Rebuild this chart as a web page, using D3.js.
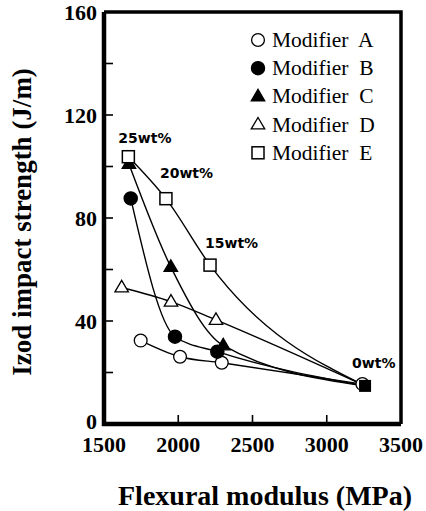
<!DOCTYPE html>
<html>
<head>
<meta charset="utf-8">
<script src="https://cdn.jsdelivr.net/npm/d3@7"></script>
<style>
  html, body { margin: 0; padding: 0; background: #fff; }
  svg { display: block; }
</style>
</head>
<body>
<svg id="chart" width="426" height="511"></svg>
<script>
// Izod impact strength vs flexural modulus for five impact modifiers
// (points at 25, 20, 15 and 0 wt% loading)
const modifiers = ["A", "B", "C", "D", "E"];
const symbols = ["openCircle", "filledCircle", "filledTriangle", "openTriangle", "openSquare"];

const modulusA = [1747, 2012, 2293, 3240];
const impactA  = [32.4, 26.1, 23.8, 15.5];
const modulusB = [1680, 1978, 2263, 3258];
const impactB  = [87.6, 33.9, 28.1, 14.8];
const modulusC = [1668, 1950, 2303, 3258];
const impactC  = [101.0, 61.0, 30.5, 14.8];
const modulusD = [1619, 1951, 2254, 3258];
const impactD  = [53.0, 47.5, 40.4, 14.8];
const modulusE = [1664, 1917, 2214, 3258];
const impactE  = [103.8, 87.5, 61.7, 14.8];

const loadingLabels = ["25wt%", "20wt%", "15wt%", "0wt%"];
const xTicks = [1500, 2000, 2500, 3000, 3500];
const yTicks = [0, 20, 40, 60, 80, 100, 120, 140, 160];
const yTickLabels = [0, 40, 80, 120, 160];

const series = [
  { name: "Modifier  A", sym: symbols[0], x: modulusA, y: impactA },
  { name: "Modifier  B", sym: symbols[1], x: modulusB, y: impactB },
  { name: "Modifier  C", sym: symbols[2], x: modulusC, y: impactC },
  { name: "Modifier  D", sym: symbols[3], x: modulusD, y: impactD },
  { name: "Modifier  E", sym: symbols[4], x: modulusE, y: impactE }
];

const svg = d3.select("#chart");
const plotL = 104, plotR = 401, plotT = 12, plotB = 424;

const x = d3.scaleLinear().domain([1500, 3500]).range([plotL, plotR]);
const y = d3.scaleLinear().domain([0, 160]).range([plotB, plotT]);

const serif = "'Liberation Serif', 'Times New Roman', serif";
const sans = "'DejaVu Sans', Verdana, sans-serif";

// curves (drawn under the markers)
const line = d3.line().x(d => x(d[0])).y(d => y(d[1])).curve(d3.curveMonotoneX);
const curves = svg.append("g");
series.forEach(s => {
  const pts = s.x.map((v, i) => [v, s.y[i]]);
  curves.append("path")
    .attr("d", line(pts))
    .attr("fill", "none")
    .attr("stroke", "#000")
    .attr("stroke-width", 1.4);
});

// marker drawing
function drawSymbol(g, sym, cx, cy) {
  const filled = sym.startsWith("filled");
  const fill = filled ? "#000" : "#fff";
  if (sym.endsWith("Circle")) {
    g.append("circle").attr("cx", cx).attr("cy", cy).attr("r", filled ? 6.6 : 6.4)
      .attr("fill", fill).attr("stroke", "#000").attr("stroke-width", 1.3);
  } else if (sym.endsWith("Triangle")) {
    const h = 11.5, w = 13.5;
    g.append("path")
      .attr("d", `M${cx},${cy - h * 0.62}L${cx + w / 2},${cy + h * 0.38}L${cx - w / 2},${cy + h * 0.38}Z`)
      .attr("fill", fill).attr("stroke", "#000").attr("stroke-width", 1.3);
  } else {
    const a = 12;
    g.append("rect").attr("x", cx - a / 2).attr("y", cy - a / 2)
      .attr("width", a).attr("height", a)
      .attr("fill", fill).attr("stroke", "#000").attr("stroke-width", 1.5);
  }
}

// markers: draw A..E; at 0 wt% the filled square end mark sits on top
const markers = svg.append("g");
series.forEach(s => {
  s.x.forEach((v, i) => {
    if (i === 3) return;
    drawSymbol(markers, s.sym, x(v), y(s.y[i]));
  });
});
series.forEach(s => {
  if (s.sym === "openCircle") drawSymbol(markers, s.sym, x(s.x[3]), y(s.y[3]));
});
// common 0 wt% point
markers.append("rect")
  .attr("x", x(modulusE[3]) - 6).attr("y", y(impactE[3]) - 6)
  .attr("width", 12).attr("height", 12).attr("fill", "#000");

// loading labels, placed next to the Modifier E points
const loadPos = [
  [modulusE[0], impactE[0]], [modulusE[1], impactE[1]],
  [modulusE[2], impactE[2]], [modulusE[3], impactE[3]]
];
const loadOffsets = [[-10, -14], [-6, -21], [-5, -17], [-13, -18]];
svg.append("g").selectAll("text").data(loadingLabels).join("text")
  .attr("x", (d, i) => x(loadPos[i][0]) + loadOffsets[i][0])
  .attr("y", (d, i) => y(loadPos[i][1]) + loadOffsets[i][1])
  .attr("font-family", sans).attr("font-weight", "bold").attr("font-size", 14)
  .text(d => d);

// ticks (inside)
const ticks = svg.append("g").attr("stroke", "#000").attr("stroke-width", 1.6);
yTicks.forEach(t => {
  ticks.append("line").attr("x1", plotL).attr("x2", plotL + 9).attr("y1", y(t)).attr("y2", y(t));
});
xTicks.slice(1, -1).forEach(t => {
  ticks.append("line").attr("x1", x(t)).attr("x2", x(t)).attr("y1", plotB).attr("y2", plotB - 9);
});

// frame
const frame = svg.append("g").attr("fill", "none").attr("stroke", "#000");
frame.append("path").attr("d", `M${plotL},${plotT}L${plotR},${plotT}L${plotR},${plotB}`).attr("stroke-width", 3.5);
frame.append("path").attr("d", `M${plotL},${plotT}L${plotL},${plotB}L${plotR},${plotB}`).attr("stroke-width", 4.5);

// tick labels
svg.append("g").selectAll("text").data(yTickLabels).join("text")
  .attr("x", 97).attr("y", d => y(d) + (d === 0 ? 5 : 8))
  .attr("text-anchor", "end")
  .attr("font-family", serif).attr("font-weight", "bold").attr("font-size", 22)
  .text(d => d);
svg.append("g").selectAll("text").data(xTicks).join("text")
  .attr("x", d => x(d)).attr("y", 452)
  .attr("text-anchor", "middle")
  .attr("font-family", serif).attr("font-weight", "bold").attr("font-size", 22)
  .text(d => d);

// axis titles
svg.append("text")
  .attr("x", 265).attr("y", 505)
  .attr("text-anchor", "middle")
  .attr("font-family", serif).attr("font-weight", "bold").attr("font-size", 28)
  .text("Flexural modulus (MPa)");
svg.append("text")
  .attr("transform", "translate(31,222) rotate(-90)")
  .attr("text-anchor", "middle")
  .attr("font-family", serif).attr("font-weight", "bold").attr("font-size", 27)
  .text("Izod impact strength (J/m)");

// legend
const legend = svg.append("g");
series.forEach((s, i) => {
  const ly = 40 + i * 28.2;
  drawSymbol(legend, s.sym, 258, ly);
  legend.append("text")
    .attr("x", 272).attr("y", ly + 7)
    .attr("font-family", serif).attr("font-size", 21.5)
    .attr("xml:space", "preserve").style("white-space", "pre")
    .text(s.name);
});
</script>
</body>
</html>
